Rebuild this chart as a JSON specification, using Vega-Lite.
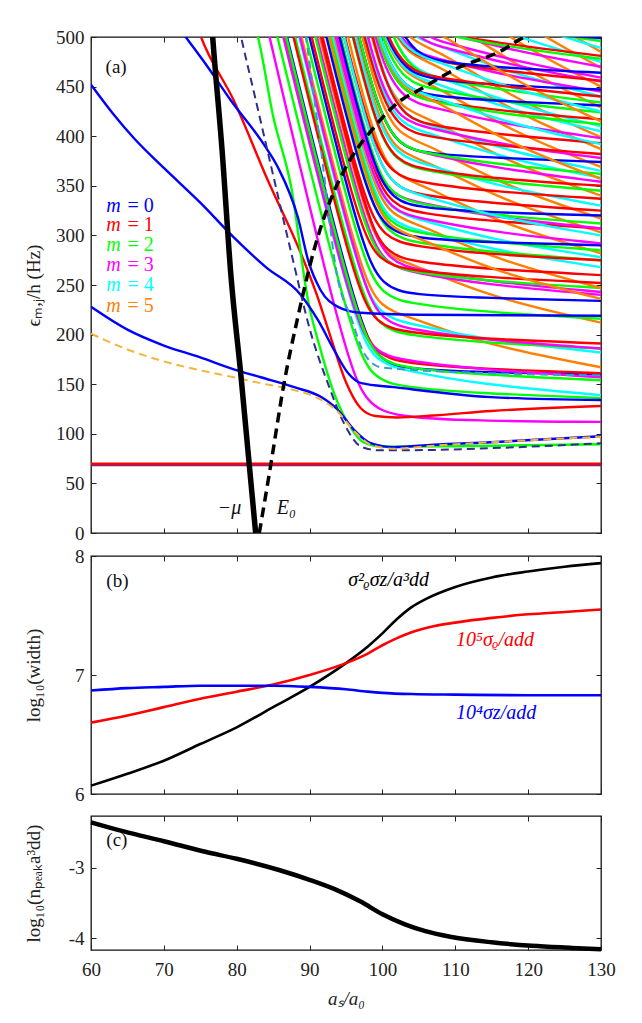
{
  "$schema": "https://vega.github.io/schema/vega-lite/v6.json",
  "background": "white",
  "padding": {"left": 23, "top": 27, "right": 10, "bottom": 5},
  "spacing": 2,
  "resolve": {"scale": {"color": "independent"}},
  "config": {
    "view": {"stroke": "#111111", "strokeWidth": 1.3},
    "font": "Liberation Serif, Times New Roman, serif",
    "axis": {
      "grid": false, "domain": false, "tickSize": -5, "tickColor": "#222222", "tickWidth": 1,
      "labelFont": "Liberation Serif, Times New Roman, serif", "labelFontSize": 19, "labelColor": "#222222", "labelFlush": false,
      "labelOverlap": false,
      "titleFont": "Liberation Serif, Times New Roman, serif", "titleFontSize": 19, "titleFontWeight": "normal", "titleColor": "#222222",
      "labelPadding": 12
    },
    "text": {"font": "Liberation Serif, Times New Roman, serif"}
  },
  "datasets": {
    "modes": [
      {"k":1,"m":4,"x":[84.4,96.1,99.1,103.1,113.1,130],"y":[560,209,172,164,150,139]},
      {"k":2,"m":2,"x":[83.6,95.8,98.8,102.8,112.8,130],"y":[560,192,155,147,141,136]},
      {"k":3,"m":3,"x":[82.6,95.0,98.0,101.5,112.5,130],"y":[560,170,130,117,113,112]},
      {"k":4,"m":0,"x":[84.9,96.6,99.6,103.6,113.6,130],"y":[560,210,173,165,162,160]},
      {"k":5,"m":1,"x":[84.7,96.2,99.2,103.2,113.2,130],"y":[560,216,179,171,165.5,161]},
      {"k":6,"m":3,"x":[84.4,95.8,98.8,102.8,112.8,130],"y":[560,219,182,174,165,157]},
      {"k":7,"m":2,"x":[84.8,96.4,99.4,103.4,113.4,130],"y":[560,211,174,166,159.5,154]},
      {"k":8,"m":5,"x":[86.9,96.8,99.8,103.8,113.8,130],"y":[560,263,226,218,190,167]},
      {"k":9,"m":4,"x":[86.6,96.7,99.7,103.7,113.7,130],"y":[560,256,219,211,195,182]},
      {"k":10,"m":2,"x":[86.0,96.6,99.6,103.6,113.6,130],"y":[560,244,207,199,192,186]},
      {"k":11,"m":3,"x":[86.7,97.0,100.0,104.0,114.0,130],"y":[560,250,213,205,194.5,186]},
      {"k":12,"m":1,"x":[85.8,96.2,99.2,103.2,113.2,130],"y":[560,247,210,202,196,191]},
      {"k":13,"m":5,"x":[89.4,97.6,100.6,104.6,114.6,130],"y":[560,315,278,270,238,212]},
      {"k":14,"m":2,"x":[87.5,97.0,100.0,104.0,114.0,130],"y":[560,276,239,231,222.6,216]},
      {"k":15,"m":0,"x":[88.0,97.1,100.1,104.1,114.1,130],"y":[560,285,248,240,237,234]},
      {"k":16,"m":3,"x":[89.0,97.5,100.5,104.5,114.5,130],"y":[560,307,270,262,250,240]},
      {"k":17,"m":3,"x":[89.7,98.0,101.0,105.0,115.0,130],"y":[560,310,273,265,253,243]},
      {"k":18,"m":2,"x":[88.8,97.2,100.2,104.2,114.2,130],"y":[560,308,271,263,254,247]},
      {"k":19,"m":5,"x":[91.3,98.2,101.2,105.2,115.2,130],"y":[560,356,319,311,276,247]},
      {"k":20,"m":1,"x":[88.3,96.6,99.6,103.6,113.6,130],"y":[560,310,273,265,258,252]},
      {"k":21,"m":1,"x":[89.6,97.6,100.6,104.6,114.6,130],"y":[560,318,281,273,266,260]},
      {"k":22,"m":4,"x":[91.1,98.1,101.1,105.1,115.1,130],"y":[560,350,313,305,285,268]},
      {"k":23,"m":2,"x":[90.5,97.9,100.9,104.9,114.9,130],"y":[560,337,300,292,283,275]},
      {"k":24,"m":1,"x":[89.8,97.3,100.3,104.3,114.3,130],"y":[560,334,297,289,281,275]},
      {"k":25,"m":4,"x":[91.6,98.2,101.2,105.2,115.2,130],"y":[560,361,324,316,295,278]},
      {"k":26,"m":5,"x":[93.3,98.7,101.7,105.7,115.7,130],"y":[560,396,359,351,313,282]},
      {"k":27,"m":2,"x":[90.9,98.0,101.0,105.0,115.0,130],"y":[560,347,310,302,293,285]},
      {"k":28,"m":0,"x":[90.3,97.6,100.6,104.6,114.6,130],"y":[560,342,305,297,293,290]},
      {"k":29,"m":5,"x":[94.4,99.1,102.1,106.1,116.1,130],"y":[560,420,383,375.5,336,303]},
      {"k":30,"m":1,"x":[91.9,98.3,101.3,105.3,115.3,130],"y":[560,367,330,322,314,307]},
      {"k":31,"m":3,"x":[91.8,97.9,100.9,104.9,114.9,130],"y":[560,378,341,333,318.5,307]},
      {"k":32,"m":2,"x":[92.3,98.4,101.4,105.4,115.4,130],"y":[560,376,339,331,320,312]},
      {"k":33,"m":5,"x":[95.2,99.3,102.3,106.3,116.3,130],"y":[560,437,400,392,351,317]},
      {"k":34,"m":1,"x":[92.7,98.6,101.6,105.6,115.6,130],"y":[560,385,348,340,332,325]},
      {"k":35,"m":4,"x":[94.3,99.0,102.0,106.0,116.0,130],"y":[560,417,380,372,349,330]},
      {"k":36,"m":1,"x":[92.8,98.3,101.3,105.3,115.3,130],"y":[560,398,361,353,344,337]},
      {"k":37,"m":5,"x":[96.5,99.7,102.7,106.7,116.7,130],"y":[560,463,426,418,375,340]},
      {"k":38,"m":2,"x":[93.9,98.9,101.9,105.9,115.9,130],"y":[560,410,373,365,354,345]},
      {"k":39,"m":3,"x":[94.7,99.2,102.2,106.2,116.2,130],"y":[560,427,390,382,367,354]},
      {"k":40,"m":4,"x":[95.7,99.5,102.5,106.5,116.5,130],"y":[560,448,411,403,378,358]},
      {"k":41,"m":4,"x":[96.7,100.2,103.2,107.2,117.2,130],"y":[560,455,418,410,385,365]},
      {"k":42,"m":5,"x":[98.1,100.2,103.2,107.2,117.2,130],"y":[560,497,460,452,406,369]},
      {"k":43,"m":0,"x":[94.8,99.2,102.2,106.2,116.2,130],"y":[560,427,390,382,378,374]},
      {"k":44,"m":3,"x":[96.0,99.5,102.5,106.5,116.5,130],"y":[560,453,416,408,391,378]},
      {"k":45,"m":1,"x":[95.5,99.4,102.4,106.4,116.4,130],"y":[560,444,407,399,390,382]},
      {"k":46,"m":5,"x":[99.1,100.5,103.5,107.5,117.5,130],"y":[560,518,481,473,426,387]},
      {"k":47,"m":1,"x":[96.6,100.1,103.1,107.1,117.1,130],"y":[560,455,418,410,401,393]},
      {"k":48,"m":5,"x":[99.7,100.7,103.7,107.7,117.7,130],"y":[560,532,495,487,439,399]},
      {"k":49,"m":4,"x":[98.2,100.2,103.2,107.2,117.2,130],"y":[560,499,462,454,427,405]},
      {"k":50,"m":4,"x":[99.1,101.0,104.0,108.0,118.0,130],"y":[560,504,467,459,432,410]},
      {"k":51,"m":1,"x":[97.3,99.9,102.9,106.9,116.9,130],"y":[560,480,443,435,425,417]},
      {"k":52,"m":2,"x":[97.8,100.1,103.1,107.1,117.1,130],"y":[560,492,455,447,434,424]},
      {"k":53,"m":5,"x":[101.2,104.2,108.2,118.2,130],"y":[567,530,522,471,429]},
      {"k":54,"m":0,"x":[97.5,100.0,103.0,107.0,117.0,130],"y":[560,485,448,440,435,431]},
      {"k":55,"m":2,"x":[99.1,101.1,104.1,108.1,118.1,130],"y":[560,502,465,457,445,434]},
      {"k":56,"m":4,"x":[100.0,100.7,103.7,107.7,117.7,130],"y":[560,537,500,492,463,440]},
      {"k":57,"m":3,"x":[99.3,100.6,103.6,107.6,117.6,130],"y":[560,523,486,478,460,445]},
      {"k":58,"m":5,"x":[101.5,104.5,108.5,118.5,130],"y":[591,554,546,493,450]},
      {"k":59,"m":3,"x":[100.8,101.7,104.7,108.7,118.7,130],"y":[560,534,497,489,470,455]},
      {"k":60,"m":1,"x":[99.2,100.5,103.5,107.5,117.5,130],"y":[560,520,483,475,465,456]},
      {"k":61,"m":3,"x":[101.5,102.3,105.3,109.3,119.3,130],"y":[560,538,501,493,474,459]},
      {"k":62,"m":0,"x":[100.1,101.5,104.5,108.5,118.5,130],"y":[560,519,482,474,468,464]},
      {"k":63,"m":5,"x":[101.8,104.8,108.8,118.8,130],"y":[613,576,568,514,469]},
      {"k":64,"m":4,"x":[101.3,104.3,108.3,118.3,130],"y":[575,538,530,500,475]},
      {"k":65,"m":1,"x":[102.4,102.9,105.9,109.9,119.9,130],"y":[560,546,509,501,490,481]},
      {"k":66,"m":5,"x":[102.1,105.1,109.1,119.1,130],"y":[632,595,587,531,485]},
      {"k":67,"m":4,"x":[101.5,104.5,108.5,118.5,130],"y":[590,553,545,514,489]},
      {"k":68,"m":2,"x":[101.2,104.2,108.2,118.2,130],"y":[567,530,522,508,496]},
      {"k":69,"m":0,"x":[100.8,101.0,104.0,108.0,118.0,130],"y":[560,554,517,509,504,499]},
      {"k":70,"m":3,"x":[91.6,98.2,101.2,105.2,115.2,130],"y":[560,362,325,317,303,292]},
      {"k":71,"m":0,"x":[92.1,98.4,101.4,105.4,115.4,130],"y":[560,372,335,327.5,323,320]},
      {"k":72,"m":2,"x":[94.8,99.2,102.2,106.2,116.2,130],"y":[560,427,390,382.5,371,362]},
      {"k":73,"m":1,"x":[94.0,98.9,101.9,105.9,115.9,130],"y":[560,411,374,366,357,350]},
      {"k":74,"m":3,"x":[97.0,99.8,102.8,106.8,116.8,130],"y":[560,474,437,429,412,398]},
      {"k":75,"m":2,"x":[97.2,99.9,102.9,106.9,116.9,130],"y":[560,480,443,434.5,422,412]},
      {"k":76,"m":0,"x":[98.3,100.2,103.2,107.2,117.2,130],"y":[560,502,465,456.6,451,447]},
      {"k":77,"m":4,"x":[99.2,100.5,103.5,107.5,117.5,130],"y":[560,521,484,475.6,448,425]},
      {"k":78,"m":5,"x":[100.6,100.9,103.9,107.9,117.9,130],"y":[560,550,513,505,456,415]},
      {"k":79,"m":5,"x":[97.4,100.0,103.0,107.0,117.0,130],"y":[560,483,446,438,393.5,357]},
      {"k":80,"m":4,"x":[97.5,100.0,103.0,107.0,117.0,130],"y":[560,485,448,440,413.5,392]},
      {"k":81,"m":3,"x":[100.7,101.1,104.1,108.1,118.1,130],"y":[560,550,513,505,486,470]},
      {"k":82,"m":2,"x":[100.6,101.0,104.0,108.0,118.0,130],"y":[560,548,511,503,489,478]},
      {"k":83,"m":1,"x":[98.4,100.3,103.3,107.3,117.3,130],"y":[560,504,467,459,449.5,440]},
      {"k":84,"m":5,"x":[90.7,98.0,101.0,105.0,115.0,130],"y":[560,343,306,298,264,236]},
      {"k":85,"m":4,"x":[92.7,98.6,101.6,105.6,115.6,130],"y":[560,385,348,340,318,300]}
    ],
    "lowmodes": [
      {"k":"s4","m":1,"x":[74.6,75.1,79.6,84.3,88.8,91,93,95,97,99,102,107,114.9,130],"y":[510,500,436,355,282,240,195,152,126,118,116.5,118.5,123,128]},
      {"k":"s7","m":2,"x":[82.5,82.9,85,87.5,89.8,91.5,93.4,95.5,97.5,100,110,130],"y":[510,500,420,348,234,185,140,108,91,87,87.5,89.5]},
      {"k":"s3","m":0,"x":[71.5,73,76,79.2,83.7,85.7,88.4,89.8,91.5,93.9,97,105,130],"y":[515,500,470,436,392,368,318,275,245,228,222,220,219]},
      {"k":"s2","m":0,"x":[60,63,65.9,70,75,79.6,84,88.8,91.2,93.4,95.3,97.1,101.6,114.9,130],"y":[452,423,398,368,333,298,268,240,214,184,161,151,147,137,134]},
      {"k":"s1","m":0,"x":[60,65,70,75,79.6,83.3,87.9,91.6,93.9,96.1,98.4,101.6,107,114.9,130],"y":[228,205,189,177,165,157,147,137,124,104,90.5,86.5,89,91.5,97.6]}
    ],
    "guides": [
      {"k":"navy","x":[80.3,80.6,82.5,84.3,87.5,90.2,92.5,94.7,97.1,99.3,104,114.9,130],"y":[510,500,440,383,282,201,151,111,87,83.5,83.5,85.5,90.5]},
      {"k":"gold","x":[60,65,70,75,79.6,83.3,87.9,90.5,93.9,96.1,98.4,101.6,107,114.9,130],"y":[201,185,173,164,157,151,144,138,122,103,89,85,88,91.5,97]},
      {"k":"teal","x":[89.2,89.5,91.5,93.9,95.7,97.5,99.8,114.9,130],"y":[515,500,390,255,217,181,167,161,159]}
    ],
    "kohn": [
      {"s":"lower","x":60,"y":68.3},{"s":"lower","x":130,"y":68.3},
      {"s":"upper","x":60,"y":69.7},{"s":"upper","x":130,"y":69.7}
    ],
    "mu": [
      {"x":76.6,"y":510},{"x":76.7,"y":500},{"x":78,"y":385},{"x":79.2,"y":260},{"x":80.6,"y":157},{"x":82.6,"y":0}
    ],
    "e0": [
      {"x":83.1,"y":0},{"x":84.0,"y":39},{"x":84.7,"y":70},{"x":86.5,"y":151},{"x":88.4,"y":218},{"x":90.6,"y":285},
      {"x":93.4,"y":345},{"x":94.7,"y":365},{"x":96.6,"y":388},{"x":98.4,"y":405},{"x":102.5,"y":436},{"x":104.9,"y":446},
      {"x":110.4,"y":469},{"x":116.3,"y":486},{"x":119.5,"y":500},{"x":121,"y":504}
    ],
    "apanel": [{"t":"(a)","x":62.0,"y":470}],
    "alabels": [{"t":"−μ","x":79.0,"y":25},{"t":"E₀","x":86.8,"y":25}],
    "mlegend": [
      {"m":0,"eq":"= 0","x":62.1,"xe":65.0,"y":330},
      {"m":1,"eq":"= 1","x":62.1,"xe":65.0,"y":310},
      {"m":2,"eq":"= 2","x":62.1,"xe":65.0,"y":290},
      {"m":3,"eq":"= 3","x":62.1,"xe":65.0,"y":270},
      {"m":4,"eq":"= 4","x":62.1,"xe":65.0,"y":250},
      {"m":5,"eq":"= 5","x":62.1,"xe":65.0,"y":229}
    ],
    "widths": [
      {"s":"vol","x":[60,65,70,75,80,85,90,95,98,100,102,104,106,110,115,120,125,130],"y":[6.07,6.17,6.28,6.42,6.56,6.73,6.90,7.10,7.24,7.35,7.47,7.57,7.64,7.74,7.82,7.87,7.91,7.94]},
      {"s":"rho","x":[60,65,70,75,80,85,90,95,98,100,102,104,107,110,115,120,125,130],"y":[6.60,6.66,6.73,6.80,6.86,6.92,7.00,7.10,7.18,7.25,7.31,7.36,7.41,7.44,7.48,7.51,7.53,7.55]},
      {"s":"z","x":[60,65,70,75,80,85,90,95,98,100,104,110,120,130],"y":[6.87,6.89,6.90,6.91,6.91,6.91,6.90,6.88,6.86,6.85,6.84,6.835,6.83,6.83]}
    ],
    "blabels": [
      {"s":"vol","t":"σ²ᵨσz/a³dd","x":95.3,"y":7.80},
      {"s":"rho","t":"10⁵σᵨ/add","x":110.1,"y":7.29},
      {"s":"z","t":"10⁴σz/add","x":110.1,"y":6.68}
    ],
    "bpanel": [{"t":"(b)","x":62.1,"y":7.79}],
    "peak": [
      {"x":60,"y":-2.35},{"x":64.5,"y":-2.48},{"x":70,"y":-2.62},{"x":75.7,"y":-2.77},{"x":80,"y":-2.87},
      {"x":85.8,"y":-3.03},{"x":90,"y":-3.17},{"x":93.6,"y":-3.31},{"x":97,"y":-3.48},{"x":100,"y":-3.66},
      {"x":103,"y":-3.80},{"x":105.9,"y":-3.90},{"x":109.3,"y":-3.98},{"x":115,"y":-4.06},{"x":120.5,"y":-4.11},
      {"x":126,"y":-4.14},{"x":130,"y":-4.16}
    ],
    "cpanel": [{"t":"(c)","x":62.1,"y":-2.6}]
  },
  "vconcat": [
    {
      "width": 510,
      "height": 496,
      "resolve": {"axis": {"x": "independent", "y": "independent"}},
      "layer": [
        {
          "data": {"name": "modes"},
          "transform": [{"flatten": ["x", "y"]}],
          "mark": {"type": "line", "clip": true, "strokeWidth": 2.4, "interpolate": "basis"},
          "encoding": {
            "x": {"field": "x", "type": "quantitative", "scale": {"domain": [60, 130], "nice": false, "zero": false},
                  "axis": {"orient": "bottom", "values": [60,70,80,90,100,110,120,130], "labels": false, "title": null}},
            "y": {"field": "y", "type": "quantitative", "scale": {"domain": [0, 500], "nice": false},
                  "axis": {"orient": "left", "values": [0,50,100,150,200,250,300,350,400,450,500], "format": "d", "title": "ϵₘ,ⱼ/h (Hz)", "titlePadding": 12}},
            "color": {"field": "m", "type": "nominal",
                      "scale": {"domain": [0,1,2,3,4,5], "range": ["#0000ff","#ff0000","#00ff00","#ff00ff","#00ffff","#ff8000"]},
                      "legend": null},
            "detail": {"field": "k", "type": "nominal"}
          }
        },
        {
          "data": {"name": "lowmodes"},
          "transform": [{"flatten": ["x", "y"]}],
          "mark": {"type": "line", "clip": true, "strokeWidth": 2.4, "interpolate": "monotone"},
          "encoding": {
            "x": {"field": "x", "type": "quantitative", "axis": null},
            "y": {"field": "y", "type": "quantitative", "axis": null},
            "color": {"field": "m", "type": "nominal", "legend": null},
            "detail": {"field": "k", "type": "nominal"}
          }
        },
        {
          "data": {"name": "guides"},
          "transform": [{"filter": "datum.k == 'navy'"}, {"flatten": ["x", "y"]}],
          "mark": {"type": "line", "clip": true, "strokeWidth": 2, "strokeDash": [8, 5], "color": "#2e2e8c", "interpolate": "monotone"},
          "encoding": {"x": {"field": "x", "type": "quantitative", "axis": null}, "y": {"field": "y", "type": "quantitative", "axis": null}}
        },
        {
          "data": {"name": "guides"},
          "transform": [{"filter": "datum.k == 'gold'"}, {"flatten": ["x", "y"]}],
          "mark": {"type": "line", "clip": true, "strokeWidth": 2, "strokeDash": [8, 5], "color": "#f5b43c", "interpolate": "monotone"},
          "encoding": {"x": {"field": "x", "type": "quantitative", "axis": null}, "y": {"field": "y", "type": "quantitative", "axis": null}}
        },
        {
          "data": {"name": "guides"},
          "transform": [{"filter": "datum.k == 'teal'"}, {"flatten": ["x", "y"]}],
          "mark": {"type": "line", "clip": true, "strokeWidth": 2, "strokeDash": [8, 5], "color": "#3a9ccc", "interpolate": "monotone"},
          "encoding": {"x": {"field": "x", "type": "quantitative", "axis": null}, "y": {"field": "y", "type": "quantitative", "axis": null}}
        },
        {
          "data": {"name": "kohn"},
          "transform": [{"filter": "datum.s == 'lower'"}],
          "mark": {"type": "line", "clip": true, "strokeWidth": 2, "color": "#5a2aa0"},
          "encoding": {"x": {"field": "x", "type": "quantitative", "axis": null}, "y": {"field": "y", "type": "quantitative", "axis": null}}
        },
        {
          "data": {"name": "kohn"},
          "transform": [{"filter": "datum.s == 'upper'"}],
          "mark": {"type": "line", "clip": true, "strokeWidth": 2.6, "color": "#ff0000"},
          "encoding": {"x": {"field": "x", "type": "quantitative", "axis": null}, "y": {"field": "y", "type": "quantitative", "axis": null}}
        },
        {
          "data": {"name": "mu"},
          "mark": {"type": "line", "clip": true, "strokeWidth": 5.5, "color": "#000000", "interpolate": "monotone"},
          "encoding": {"x": {"field": "x", "type": "quantitative", "axis": null}, "y": {"field": "y", "type": "quantitative", "axis": null}}
        },
        {
          "data": {"name": "e0"},
          "mark": {"type": "line", "clip": true, "strokeWidth": 3.5, "strokeDash": [10, 6], "color": "#000000", "interpolate": "monotone"},
          "encoding": {"x": {"field": "x", "type": "quantitative", "axis": null}, "y": {"field": "y", "type": "quantitative", "axis": null}}
        },
        {
          "data": {"name": "apanel"},
          "mark": {"type": "text", "align": "left", "baseline": "middle", "fontSize": 19, "color": "#111111"},
          "encoding": {"x": {"field": "x", "type": "quantitative", "axis": null}, "y": {"field": "y", "type": "quantitative", "axis": null}, "text": {"field": "t"}}
        },
        {
          "data": {"name": "alabels"},
          "mark": {"type": "text", "align": "center", "baseline": "middle", "fontSize": 20, "fontStyle": "italic", "color": "#111111"},
          "encoding": {"x": {"field": "x", "type": "quantitative", "axis": null}, "y": {"field": "y", "type": "quantitative", "axis": null}, "text": {"field": "t"}}
        },
        {
          "data": {"name": "mlegend"},
          "mark": {"type": "text", "align": "left", "baseline": "middle", "fontSize": 20, "fontStyle": "italic"},
          "encoding": {"x": {"field": "x", "type": "quantitative", "axis": null}, "y": {"field": "y", "type": "quantitative", "axis": null},
                       "text": {"value": "m"}, "color": {"field": "m", "type": "nominal", "legend": null}}
        },
        {
          "data": {"name": "mlegend"},
          "mark": {"type": "text", "align": "left", "baseline": "middle", "fontSize": 20},
          "encoding": {"x": {"field": "xe", "type": "quantitative", "axis": null}, "y": {"field": "y", "type": "quantitative", "axis": null},
                       "text": {"field": "eq"}, "color": {"field": "m", "type": "nominal", "legend": null}}
        },
        {
          "data": {"name": "kohn"},
          "mark": {"type": "line", "opacity": 0},
          "encoding": {
            "x": {"field": "x", "type": "quantitative", "axis": {"orient": "top", "values": [60,70,80,90,100,110,120,130], "labels": false, "title": null}},
            "y": {"field": "y", "type": "quantitative", "axis": {"orient": "right", "values": [0,50,100,150,200,250,300,350,400,450,500], "labels": false, "title": null}}
          }
        }
      ]
    },
    {
      "spacing": 7,
      "resolve": {"scale": {"color": "independent"}},
      "vconcat": [
        {
          "width": 510,
          "height": 238,
          "resolve": {"axis": {"x": "independent", "y": "independent"}},
          "layer": [
            {
              "data": {"name": "widths"},
              "transform": [{"flatten": ["x", "y"]}],
              "mark": {"type": "line", "strokeWidth": 2.6, "interpolate": "monotone"},
              "encoding": {
                "x": {"field": "x", "type": "quantitative", "scale": {"domain": [60, 130], "nice": false, "zero": false},
                      "axis": {"orient": "bottom", "values": [60,70,80,90,100,110,120,130], "labels": false, "title": null}},
                "y": {"field": "y", "type": "quantitative", "scale": {"domain": [6, 8], "nice": false, "zero": false},
                      "axis": {"orient": "left", "values": [6,7,8], "labelExpr": "datum.value + ''", "title": "log₁₀(width)", "titlePadding": 31}},
                "color": {"field": "s", "type": "nominal", "scale": {"domain": ["vol","rho","z"], "range": ["#000000","#ff0000","#0000ff"]}, "legend": null},
                "detail": {"field": "s", "type": "nominal"}
              }
            },
            {
              "data": {"name": "blabels"},
              "mark": {"type": "text", "align": "left", "baseline": "middle", "fontSize": 20, "fontStyle": "italic"},
              "encoding": {"x": {"field": "x", "type": "quantitative", "axis": null}, "y": {"field": "y", "type": "quantitative", "axis": null},
                           "text": {"field": "t"}, "color": {"field": "s", "type": "nominal", "legend": null}}
            },
            {
              "data": {"name": "bpanel"},
              "mark": {"type": "text", "align": "left", "baseline": "middle", "fontSize": 19, "color": "#111111"},
              "encoding": {"x": {"field": "x", "type": "quantitative", "axis": null}, "y": {"field": "y", "type": "quantitative", "axis": null}, "text": {"field": "t"}}
            },
            {
              "data": {"name": "bpanel"},
              "mark": {"type": "point", "opacity": 0},
              "encoding": {
                "x": {"field": "x", "type": "quantitative", "axis": {"orient": "top", "values": [60,70,80,90,100,110,120,130], "labels": false, "title": null}},
                "y": {"field": "y", "type": "quantitative", "axis": {"orient": "right", "values": [6,7,8], "labels": false, "title": null}}
              }
            }
          ]
        },
        {
          "width": 510,
          "height": 134,
          "resolve": {"axis": {"x": "independent", "y": "independent"}},
          "layer": [
            {
              "data": {"name": "peak"},
              "mark": {"type": "line", "strokeWidth": 4.5, "color": "#000000", "interpolate": "monotone"},
              "encoding": {
                "x": {"field": "x", "type": "quantitative", "scale": {"domain": [60, 130], "nice": false, "zero": false},
                      "axis": {"orient": "bottom", "values": [60,70,80,90,100,110,120,130], "title": "aₛ/a₀", "titleFontStyle": "italic", "labelPadding": 15, "titlePadding": 10}},
                "y": {"field": "y", "type": "quantitative", "scale": {"domain": [-4.17, -2.26], "nice": false, "zero": false},
                      "axis": {"orient": "left", "values": [-4,-3], "labelExpr": "datum.value + ''", "title": "log₁₀(nₚₑₐₖa³dd)", "titlePadding": 25}}
              }
            },
            {
              "data": {"name": "cpanel"},
              "mark": {"type": "text", "align": "left", "baseline": "middle", "fontSize": 19, "color": "#111111"},
              "encoding": {"x": {"field": "x", "type": "quantitative", "axis": null}, "y": {"field": "y", "type": "quantitative", "axis": null}, "text": {"field": "t"}}
            },
            {
              "data": {"name": "cpanel"},
              "mark": {"type": "point", "opacity": 0},
              "encoding": {
                "x": {"field": "x", "type": "quantitative", "axis": {"orient": "top", "values": [60,70,80,90,100,110,120,130], "labels": false, "title": null}},
                "y": {"field": "y", "type": "quantitative", "axis": {"orient": "right", "values": [-4,-3], "labels": false, "title": null}}
              }
            }
          ]
        }
      ]
    }
  ]
}
